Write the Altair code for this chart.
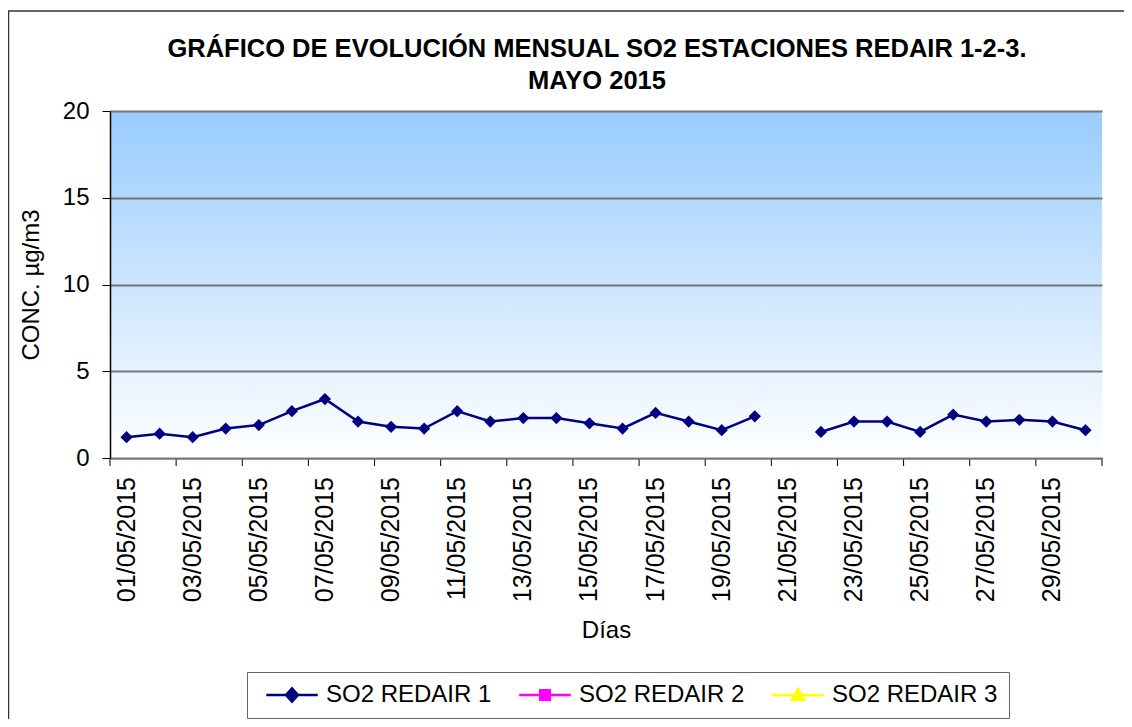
import altair as alt
import pandas as pd

# ---- data ----
dates = ["01/05/2015", "02/05/2015", "03/05/2015", "04/05/2015", "05/05/2015",
         "06/05/2015", "07/05/2015", "08/05/2015", "09/05/2015", "10/05/2015",
         "11/05/2015", "12/05/2015", "13/05/2015", "14/05/2015", "15/05/2015",
         "16/05/2015", "17/05/2015", "18/05/2015", "19/05/2015", "20/05/2015",
         "21/05/2015", "22/05/2015", "23/05/2015", "24/05/2015", "25/05/2015",
         "26/05/2015", "27/05/2015", "28/05/2015", "29/05/2015", "30/05/2015"]
so2_redair1 = [1.2, 1.4, 1.2, 1.7, 1.9, 2.7, 3.4, 2.1, 1.8, 1.7,
               2.7, 2.1, 2.3, 2.3, 2.0, 1.7, 2.6, 2.1, 1.6, 2.4,
               None, 1.5, 2.1, 2.1, 1.5, 2.5, 2.1, 2.2, 2.1, 1.6]
series_names = ["SO2 REDAIR 1", "SO2 REDAIR 2", "SO2 REDAIR 3"]
series_colors = ["#000080", "#FF00FF", "#FFFF00"]
tick_dates = ["01/05/2015", "03/05/2015", "05/05/2015", "07/05/2015", "09/05/2015",
              "11/05/2015", "13/05/2015", "15/05/2015", "17/05/2015", "19/05/2015",
              "21/05/2015", "23/05/2015", "25/05/2015", "27/05/2015", "29/05/2015"]
end_date = ["30/05/2015"]
y_ticks = [0, 5, 10, 15, 20]

W, H = 992, 347
FONT = "Liberation Sans"

df = pd.DataFrame({"fecha": dates, "valor": so2_redair1, "serie": series_names[0]})
legend_df = pd.DataFrame({"serie": series_names, "valor": [None] * 3})
ticks_df = pd.DataFrame({"fecha": tick_dates})
end_df = pd.DataFrame({"fecha": end_date})
one = pd.DataFrame({"k": [0]})

x_scale = alt.Scale(type="band", domain=dates, paddingInner=0, paddingOuter=0)
x_axis = alt.Axis(labels=False, ticks=False, domainColor="#777777",
                  domainWidth=2, titlePadding=160, grid=False)
x_enc = alt.X("fecha:O", title="Días", scale=x_scale, axis=x_axis)
y_enc = alt.Y("valor:Q", title="CONC. µg/m3",
              scale=alt.Scale(domain=[0, 20], nice=False, zero=True),
              axis=alt.Axis(values=y_ticks, tickSize=8, tickColor="#000000",
                            domainColor="#000000", domainWidth=1.5, labelPadding=13,
                            titlePadding=19, grid=True, gridColor="#777777",
                            gridWidth=2, zindex=1))

gradient = alt.Gradient(
    gradient="linear",
    stops=[alt.GradientStop(color="#99CCFF", offset=0),
           alt.GradientStop(color="#FFFFFF", offset=1)],
    x1=0, x2=0, y1=0, y2=1)

bg = alt.Chart(one).mark_rect(fill=gradient).encode(
    x=alt.value(0), x2=alt.value(W), y=alt.value(0), y2=alt.value(H))

line = alt.Chart(df).mark_line(color="#000080", strokeWidth=2.5).encode(x=x_enc, y=y_enc)

pts = alt.Chart(df).mark_point(filled=True, color="#000080", shape="diamond",
                               size=150, opacity=1).encode(x=x_enc, y=y_enc)

# category-boundary tick marks (every second day) and the closing tick
start_ticks = alt.Chart(ticks_df).mark_rule(color="#000000", strokeWidth=1).encode(
    x=alt.X("fecha:O", title="Días", scale=x_scale, axis=x_axis, bandPosition=0),
    y=alt.value(H), y2=alt.value(H + 8))
end_tick = alt.Chart(end_df).mark_rule(color="#000000", strokeWidth=1).encode(
    x=alt.X("fecha:O", title="Días", scale=x_scale, axis=x_axis, bandPosition=1),
    y=alt.value(H), y2=alt.value(H + 8))

# rotated date labels (every second day), centred on their category
tick_labels = alt.Chart(ticks_df).mark_text(
    angle=270, align="right", baseline="middle", font=FONT, fontSize=25,
    color="#000000").encode(
    x=alt.X("fecha:O", title="Días", scale=x_scale, axis=x_axis, bandPosition=0.5),
    y=alt.value(H + 19), text="fecha:N")

sym_paths = [
    "M-4.3,0H4.3M0,-1.1L1,0L0,1.1L-1,0Z",
    "M-4.3,0H4.3M-0.8,-0.8H0.8V0.8H-0.8Z",
    "M-4.3,0H4.3M0,-1L1,0.8H-1Z",
]
leg_scale_c = alt.Scale(domain=series_names, range=series_colors)
legend_layer = alt.Chart(legend_df).mark_point(filled=True, strokeWidth=2.5, opacity=1).encode(
    y=alt.Y("valor:Q"),
    fill=alt.Fill("serie:N", scale=leg_scale_c,
                  legend=alt.Legend(title=None, orient="none", legendX=137, legendY=561,
                                    direction="horizontal", columns=3,
                                    symbolSize=144, symbolStrokeWidth=2.5,
                                    symbolOffset=22, labelOffset=22,
                                    columnPadding=19, padding=11,
                                    strokeColor="#666666", labelFontSize=24,
                                    labelFont=FONT, labelColor="#000000",
                                    labelLimit=400)),
    stroke=alt.Stroke("serie:N", scale=leg_scale_c, legend=alt.Legend(title=None)),
    shape=alt.Shape("serie:N", scale=alt.Scale(domain=series_names, range=sym_paths),
                    legend=alt.Legend(title=None)),
)

frame_top = alt.Chart(one).mark_rule(color="#333333", strokeWidth=1.5).encode(
    x=alt.value(-102), x2=alt.value(1020), y=alt.value(-100))
frame_left = alt.Chart(one).mark_rule(color="#333333", strokeWidth=1.5).encode(
    x=alt.value(-101.5), y=alt.value(-100), y2=alt.value(620))

chart = alt.layer(bg, line, pts, start_ticks, end_tick, tick_labels, legend_layer,
                  frame_top, frame_left).properties(
    width=W, height=H,
    padding={"left": 102, "top": 103, "right": 22, "bottom": 261},
    autosize=alt.AutoSizeParams(type="none"),
    title=alt.TitleParams(
        text=["GRÁFICO DE EVOLUCIÓN MENSUAL SO2 ESTACIONES REDAIR 1-2-3.", "MAYO 2015"],
        anchor="middle", dx=-9, offset=-84, fontSize=25.5, fontWeight="bold",
        font=FONT, color="#000000", lineHeight=32),
).configure_view(stroke=None).configure_axis(
    labelFont=FONT, titleFont=FONT, labelFontSize=24, titleFontSize=24,
    titleFontWeight="normal", labelColor="#000000", titleColor="#000000",
    tickWidth=1,
)

chart.save("out.html", embed_options={"renderer": "svg", "actions": False})
